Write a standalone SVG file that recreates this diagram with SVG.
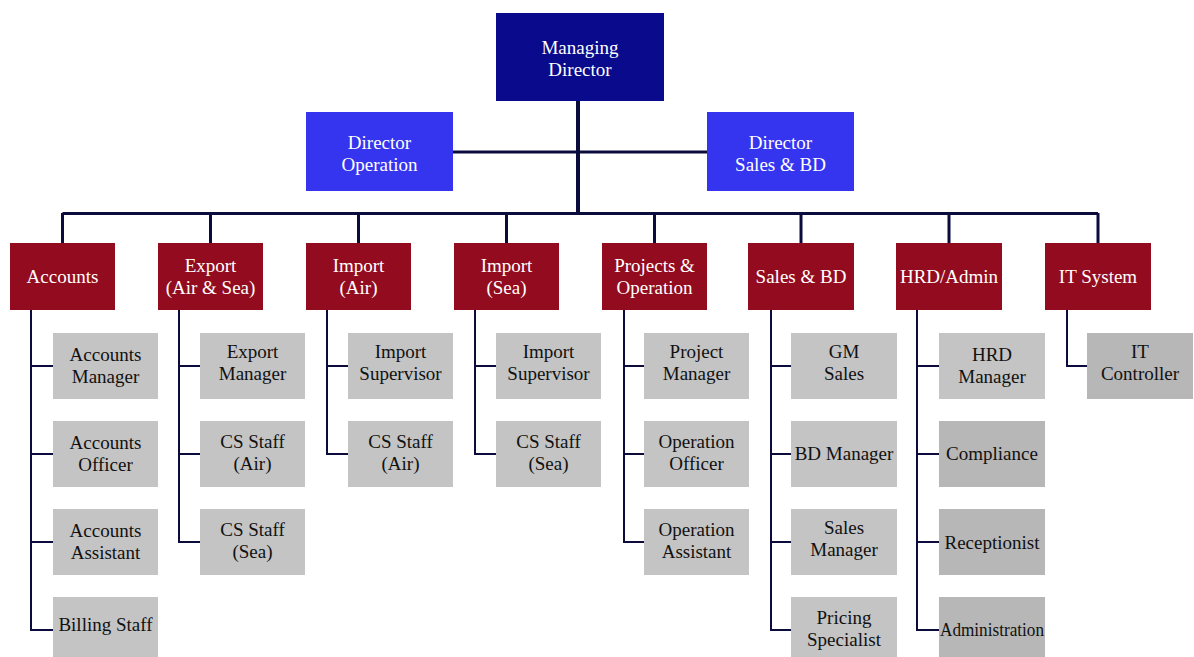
<svg xmlns="http://www.w3.org/2000/svg" width="1194" height="657" viewBox="0 0 1194 657">
<style>
text{font-family:"Liberation Serif","Times New Roman",serif;font-size:19px;text-anchor:middle}
.md{fill:#0a0a8c}
.dir{fill:#3535f0}
.dept{fill:#930b1e}
.role{fill:#c4c4c4}
.role2{fill:#b7b7b7}
.w{fill:#ffffff}
.k{fill:#111111}
.thick{stroke:#0c0c3c;stroke-width:4;fill:none}
.mid{stroke:#0c0c3c;stroke-width:3;fill:none}
.thin{stroke:#0c0c3c;stroke-width:2;fill:none}
</style>
<rect width="1194" height="657" fill="#ffffff"/>
<g id="connectors">
<path class="thick" d="M578 100V214"/>
<path class="mid" d="M453 152H707"/>
<path class="mid" d="M62.5 213.5H1098M62.5 213V243M210.5 213V243M358.5 213V243M506.5 213V243M654.5 213V243M801 213V243M949 213V243M1098 213V243"/>
<path class="thin" d="M31 310V630H53M31 366H53M31 454H53M31 542H53"/>
<path class="thin" d="M179 310V542H200M179 366H200M179 454H200"/>
<path class="thin" d="M327 310V454H348M327 366H348"/>
<path class="thin" d="M475 310V454H496M475 366H496"/>
<path class="thin" d="M624 310V542H644M624 366H644M624 454H644"/>
<path class="thin" d="M771 310V630H791M771 366H791M771 454H791M771 542H791"/>
<path class="thin" d="M917 310V630H939M917 366H939M917 454H939M917 542H939"/>
<path class="thin" d="M1067 310V366H1087"/>
</g>
<g id="managing-director"><rect class="md" x="496" y="13" width="168" height="88"/><text class="w" x="580" y="54">Managing</text><text class="w" x="580" y="76">Director</text></g>
<g id="director-operation"><rect class="dir" x="306" y="112" width="147" height="79"/><text class="w" x="379.5" y="149">Director</text><text class="w" x="379.5" y="171">Operation</text></g>
<g id="director-sales"><rect class="dir" x="707" y="112" width="147" height="79"/><text class="w" x="780.5" y="149">Director</text><text class="w" x="780.5" y="171">Sales &amp; BD</text></g>
<g id="dept-accounts"><rect class="dept" x="10" y="243" width="105" height="67"/><text class="w" x="62.5" y="283">Accounts</text></g>
<g id="dept-export"><rect class="dept" x="158" y="243" width="105" height="67"/><text class="w" x="210.5" y="272">Export</text><text class="w" x="210.5" y="294">(Air &amp; Sea)</text></g>
<g id="dept-import-air"><rect class="dept" x="306" y="243" width="105" height="67"/><text class="w" x="358.5" y="272">Import</text><text class="w" x="358.5" y="294">(Air)</text></g>
<g id="dept-import-sea"><rect class="dept" x="454" y="243" width="105" height="67"/><text class="w" x="506.5" y="272">Import</text><text class="w" x="506.5" y="294">(Sea)</text></g>
<g id="dept-projects"><rect class="dept" x="602" y="243" width="105" height="67"/><text class="w" x="654.5" y="272">Projects &amp;</text><text class="w" x="654.5" y="294">Operation</text></g>
<g id="dept-sales"><rect class="dept" x="748" y="243" width="106" height="67"/><text class="w" x="801" y="283">Sales &amp; BD</text></g>
<g id="dept-hrd"><rect class="dept" x="896" y="243" width="106" height="67"/><text class="w" x="949" y="283">HRD/Admin</text></g>
<g id="dept-it"><rect class="dept" x="1045" y="243" width="106" height="67"/><text class="w" x="1098" y="283">IT System</text></g>
<g id="accounts-manager"><rect class="role" x="53" y="333" width="105" height="66"/><text class="k" x="105.5" y="361">Accounts</text><text class="k" x="105.5" y="383">Manager</text></g>
<g id="accounts-officer"><rect class="role" x="53" y="421" width="105" height="66"/><text class="k" x="105.5" y="449">Accounts</text><text class="k" x="105.5" y="471">Officer</text></g>
<g id="accounts-assistant"><rect class="role" x="53" y="509" width="105" height="66"/><text class="k" x="105.5" y="537">Accounts</text><text class="k" x="105.5" y="559">Assistant</text></g>
<g id="billing-staff"><rect class="role" x="53" y="597" width="105" height="66"/><text class="k" x="105.5" y="631">Billing Staff</text></g>
<g id="export-manager"><rect class="role" x="200" y="333" width="105" height="66"/><text class="k" x="252.5" y="358">Export</text><text class="k" x="252.5" y="380">Manager</text></g>
<g id="cs-staff-air-export"><rect class="role" x="200" y="421" width="105" height="66"/><text class="k" x="252.5" y="448">CS Staff</text><text class="k" x="252.5" y="470">(Air)</text></g>
<g id="cs-staff-sea-export"><rect class="role" x="200" y="509" width="105" height="66"/><text class="k" x="252.5" y="536">CS Staff</text><text class="k" x="252.5" y="558">(Sea)</text></g>
<g id="import-supervisor-air"><rect class="role" x="348" y="333" width="105" height="66"/><text class="k" x="400.5" y="358">Import</text><text class="k" x="400.5" y="380">Supervisor</text></g>
<g id="cs-staff-air-import"><rect class="role" x="348" y="421" width="105" height="66"/><text class="k" x="400.5" y="448">CS Staff</text><text class="k" x="400.5" y="470">(Air)</text></g>
<g id="import-supervisor-sea"><rect class="role" x="496" y="333" width="105" height="66"/><text class="k" x="548.5" y="358">Import</text><text class="k" x="548.5" y="380">Supervisor</text></g>
<g id="cs-staff-sea-import"><rect class="role" x="496" y="421" width="105" height="66"/><text class="k" x="548.5" y="448">CS Staff</text><text class="k" x="548.5" y="470">(Sea)</text></g>
<g id="project-manager"><rect class="role" x="644" y="333" width="105" height="66"/><text class="k" x="696.5" y="358">Project</text><text class="k" x="696.5" y="380">Manager</text></g>
<g id="operation-officer"><rect class="role" x="644" y="421" width="105" height="66"/><text class="k" x="696.5" y="448">Operation</text><text class="k" x="696.5" y="470">Officer</text></g>
<g id="operation-assistant"><rect class="role" x="644" y="509" width="105" height="66"/><text class="k" x="696.5" y="536">Operation</text><text class="k" x="696.5" y="558">Assistant</text></g>
<g id="gm-sales"><rect class="role" x="791" y="333" width="106" height="66"/><text class="k" x="844" y="358">GM</text><text class="k" x="844" y="380">Sales</text></g>
<g id="bd-manager"><rect class="role" x="791" y="421" width="106" height="66"/><text class="k" x="844" y="460">BD Manager</text></g>
<g id="sales-manager"><rect class="role" x="791" y="509" width="106" height="66"/><text class="k" x="844" y="534">Sales</text><text class="k" x="844" y="556">Manager</text></g>
<g id="pricing-specialist"><rect class="role" x="791" y="597" width="106" height="66"/><text class="k" x="844" y="624">Pricing</text><text class="k" x="844" y="646">Specialist</text></g>
<g id="hrd-manager"><rect class="role" x="939" y="333" width="106" height="66"/><text class="k" x="992" y="361">HRD</text><text class="k" x="992" y="383">Manager</text></g>
<g id="compliance"><rect class="role2" x="939" y="421" width="106" height="66"/><text class="k" x="992" y="460">Compliance</text></g>
<g id="receptionist"><rect class="role2" x="939" y="509" width="106" height="66"/><text class="k" x="992" y="549">Receptionist</text></g>
<g id="administration"><rect class="role2" x="939" y="597" width="106" height="66"/><text class="k" x="992" y="636" textLength="104" lengthAdjust="spacingAndGlyphs">Administration</text></g>
<g id="it-controller"><rect class="role2" x="1087" y="333" width="106" height="66"/><text class="k" x="1140" y="358">IT</text><text class="k" x="1140" y="380">Controller</text></g>
</svg>
